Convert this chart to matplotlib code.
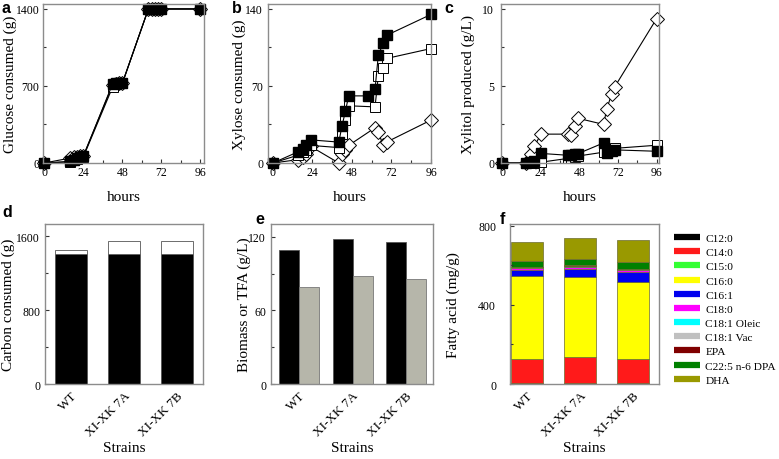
import numpy as np
import matplotlib
matplotlib.use("Agg")
import matplotlib.pyplot as plt
from matplotlib.ticker import MultipleLocator
from matplotlib.lines import Line2D

plt.rcParams['font.family'] = ['Liberation Serif', 'DejaVu Serif']
plt.rcParams['xtick.direction'] = 'in'
plt.rcParams['ytick.direction'] = 'in'

# --- time courses (diamond = WT, filled square = XI-XK 7A, open square = XI-XK 7B)
t_glc = [0, 16, 18, 20, 22, 24, 42, 44, 46, 48, 64, 66, 68, 70, 72, 96]
glc_wt = [0, 45, 50, 55, 60, 65, 710, 720, 725, 725, 1400, 1400, 1400, 1400, 1400, 1400]
glc_7a = [0, 15, 30, 45, 55, 60, 720, 725, 725, 725, 1400, 1400, 1400, 1400, 1400, 1400]
glc_7b = [0, 10, 25, 40, 50, 55, 690, 720, 725, 725, 1400, 1400, 1400, 1400, 1400, 1400]

t_xyl_wt = [0, 15, 18, 20, 23, 40, 42, 44, 46, 62, 64, 67, 69, 96]
xyl_wt = [0, 3, 5, 8, 15, 0, 8, 12, 16, 32, 28, 16, 19, 39]
t_xyl_7a = [0, 15, 18, 20, 23, 40, 42, 44, 46, 58, 62, 64, 67, 69, 96]
xyl_7a = [0, 10, 13, 16, 21, 19, 34, 47, 61, 61, 67, 98, 109, 116, 135]
t_xyl_7b = [0, 15, 18, 20, 23, 40, 42, 44, 46, 62, 64, 67, 69, 96]
xyl_7b = [0, 7, 10, 12, 16, 14, 26, 39, 52, 51, 79, 86, 95, 104]

t_xol = [0, 15, 18, 20, 24, 41, 43, 45, 47, 63, 65, 68, 70, 96]
xol_wt = [0, 0, 0.56, 1.08, 1.87, 1.87, 1.8, 2.4, 2.9, 2.5, 3.5, 4.46, 4.94, 9.35]
xol_7a = [0, 0, 0.05, 0.1, 0.62, 0.5, 0.55, 0.6, 0.6, 1.3, 0.65, 0.75, 0.85, 0.76]
xol_7b = [0, 0, 0, 0, 0.05, 0.3, 0.35, 0.4, 0.45, 0.7, 0.8, 0.85, 0.95, 1.15]

# --- end-point bars
strains = ['WT', 'XI-XK 7A', 'XI-XK 7B']
carbon_glc = [1407, 1405, 1410]
carbon_xyl = [43, 137, 140]
biomass = [109, 118.6, 116]
tfa = [79, 88, 85.4]

fa_names = ['C12:0', 'C14:0', 'C15:0', 'C16:0', 'C16:1', 'C18:0', 'C18:1 Oleic',
            'C18:1 Vac', 'EPA', 'C22:5 n-6 DPA', 'DHA']
fa_colors = ['#000000', '#ff1a1a', '#33ff33', '#ffff00', '#0000ee', '#ff00ff',
             '#00ffff', '#c0c0c0', '#800000', '#008000', '#999900']
fa_wt = [6, 119, 1, 420, 30, 10, 2, 2, 3, 30, 95]
fa_7a = [7, 128, 1, 404, 42, 11, 2, 2, 3, 33, 105]
fa_7b = [6, 121, 1, 387, 50, 12, 2, 2, 3, 33, 112]

W, H = 779, 460
fig = plt.figure(figsize=(W / 100, H / 100), dpi=100)


def box(l, r, t, b):
    return fig.add_axes([l / W, 1 - b / H, (r - l) / W, (b - t) / H])


def style(ax, ypad=3.5):
    for s in ax.spines.values():
        s.set_color('#8c8c8c')
        s.set_linewidth(1.0)
    ax.tick_params(which='both', labelsize=8.5, length=3, width=0.8, color='#333333', pad=2.5)
    ax.tick_params(which='minor', length=2.5)
    ax.tick_params(axis='y', pad=ypad)


ax_a = box(43, 204, 5, 164)
ax_b = box(268, 431, 5, 164)
ax_c = box(501, 659, 5, 164)
ax_d = box(45, 203, 225, 385)
ax_e = box(271, 433, 225, 385)
ax_f = box(510, 659, 225, 385)

mk = dict(markersize=7, linewidth=0.8, color='black', clip_on=False)
series = [(ax_a, [(t_glc, glc_wt), (t_glc, glc_7b), (t_glc, glc_7a)]),
          (ax_b, [(t_xyl_wt, xyl_wt), (t_xyl_7b, xyl_7b), (t_xyl_7a, xyl_7a)]),
          (ax_c, [(t_xol, xol_wt), (t_xol, xol_7b), (t_xol, xol_7a)])]
for ax, ((tw, wt), (tb, b7), (ta, a7)) in series:
    ax.plot(tw, wt, marker='D', markersize=7.5, markerfacecolor='white', markeredgewidth=0.7,
            linewidth=0.8, color='black', clip_on=False)
    ax.plot(tb, b7, marker='s', markerfacecolor='white', markeredgewidth=0.7, **mk)
    ax.plot(ta, a7, marker='s', markerfacecolor='black', **mk)
    ax.set_xticks([0, 24, 48, 72, 96])
    ax.xaxis.set_minor_locator(MultipleLocator(12))
    ax.set_xlabel('hours', fontsize=11, labelpad=8)

style(ax_a, 2.5)
style(ax_b)
style(ax_c, 5)

ax_a.set_xlim(-0.8, 98.2)
ax_a.set_ylim(0, 1445)
ax_a.set_yticks([0, 700, 1400])
ax_a.yaxis.set_minor_locator(MultipleLocator(350))
ax_a.set_ylabel('Glucose consumed (g)', fontsize=11)
ax_a.yaxis.set_label_coords(-0.16, 0.5)

ax_b.set_xlim(-3, 96)
ax_b.set_ylim(0, 144.5)
ax_b.set_yticks([0, 70, 140])
ax_b.yaxis.set_minor_locator(MultipleLocator(35))
ax_b.set_ylabel('Xylose consumed (g)', fontsize=11)
ax_b.yaxis.set_label_coords(-0.135, 0.5)

ax_c.set_xlim(-0.8, 97.5)
ax_c.set_ylim(0, 10.3)
ax_c.set_yticks([0, 5, 10])
ax_c.yaxis.set_minor_locator(MultipleLocator(2.5))
ax_c.set_ylabel('Xylitol produced (g/L)', fontsize=11)
ax_c.yaxis.set_label_coords(-0.165, 0.5)

x = np.arange(len(strains))

# d: carbon consumed
ax_d.bar(x, carbon_glc, width=0.6, color='black', edgecolor='#555555', linewidth=0.6)
ax_d.bar(x, carbon_xyl, width=0.6, bottom=carbon_glc, color='white',
         edgecolor='#555555', linewidth=0.6)
ax_d.set_xlim(-0.49, 2.49)
ax_d.set_ylim(0, 1730)
ax_d.set_yticks([0, 800, 1600])
ax_d.yaxis.set_minor_locator(MultipleLocator(400))
ax_d.set_ylabel('Carbon consumed (g)', fontsize=11)
ax_d.yaxis.set_label_coords(-0.19, 0.5)

# e: biomass / TFA
ax_e.bar(x - 0.1875, biomass, width=0.375, color='black', edgecolor='#555555', linewidth=0.6)
ax_e.bar(x + 0.1875, tfa, width=0.375, color='#b6b6aa', edgecolor='#777777', linewidth=0.6)
ax_e.set_xlim(-0.53, 2.51)
ax_e.set_ylim(0, 130.6)
ax_e.set_yticks([0, 60, 120])
ax_e.yaxis.set_minor_locator(MultipleLocator(30))
ax_e.set_ylabel('Biomass or TFA (g/L)', fontsize=11)
ax_e.yaxis.set_label_coords(-0.123, 0.5)

# f: fatty acid profile
fa = np.array([fa_wt, fa_7a, fa_7b])
bottom = np.zeros(len(strains))
handles = []
for i, name in enumerate(fa_names):
    ax_f.bar(x, fa[:, i], width=0.6, bottom=bottom, color=fa_colors[i],
             edgecolor='#6b6b30', linewidth=0.5)
    bottom += fa[:, i]
    handles.append(Line2D([], [], color=fa_colors[i], linewidth=4.5,
                          solid_capstyle='butt', label=name))
ax_f.set_xlim(-0.32, 2.49)
ax_f.set_ylim(0, 810)
ax_f.set_yticks([0, 400, 800])
ax_f.yaxis.set_minor_locator(MultipleLocator(200))
ax_f.set_ylabel('Fatty acid (mg/g)', fontsize=11)
ax_f.yaxis.set_label_coords(-0.336, 0.5)
fig.legend(handles=handles, loc='upper left', bbox_to_anchor=(674 / W, 1 - 234 / H),
           frameon=False, fontsize=8.2, handlelength=2.3, handletextpad=0.45,
           labelspacing=0.37, borderaxespad=0, borderpad=0)

style(ax_d)
style(ax_e)
style(ax_f, 10)
for ax in (ax_d, ax_e, ax_f):
    ax.set_xticks(x)
    ax.set_xticklabels(strains, rotation=45, ha='right', rotation_mode='anchor')
    ax.set_xlabel('Strains', fontsize=11, labelpad=2)
    ax.tick_params(axis='x', labelsize=9.5, length=0, pad=4)

for lbl, px, py in [('a', 2, 1), ('b', 232, 1), ('c', 444, 1),
                    ('d', 2, 205), ('e', 255, 212), ('f', 500, 212)]:
    fig.text(px / W, 1 - py / H, lbl, fontsize=11.5, fontweight='bold',
             family=['Liberation Sans', 'DejaVu Sans'], va='top', ha='left')

fig.savefig('out.png', dpi=100)
